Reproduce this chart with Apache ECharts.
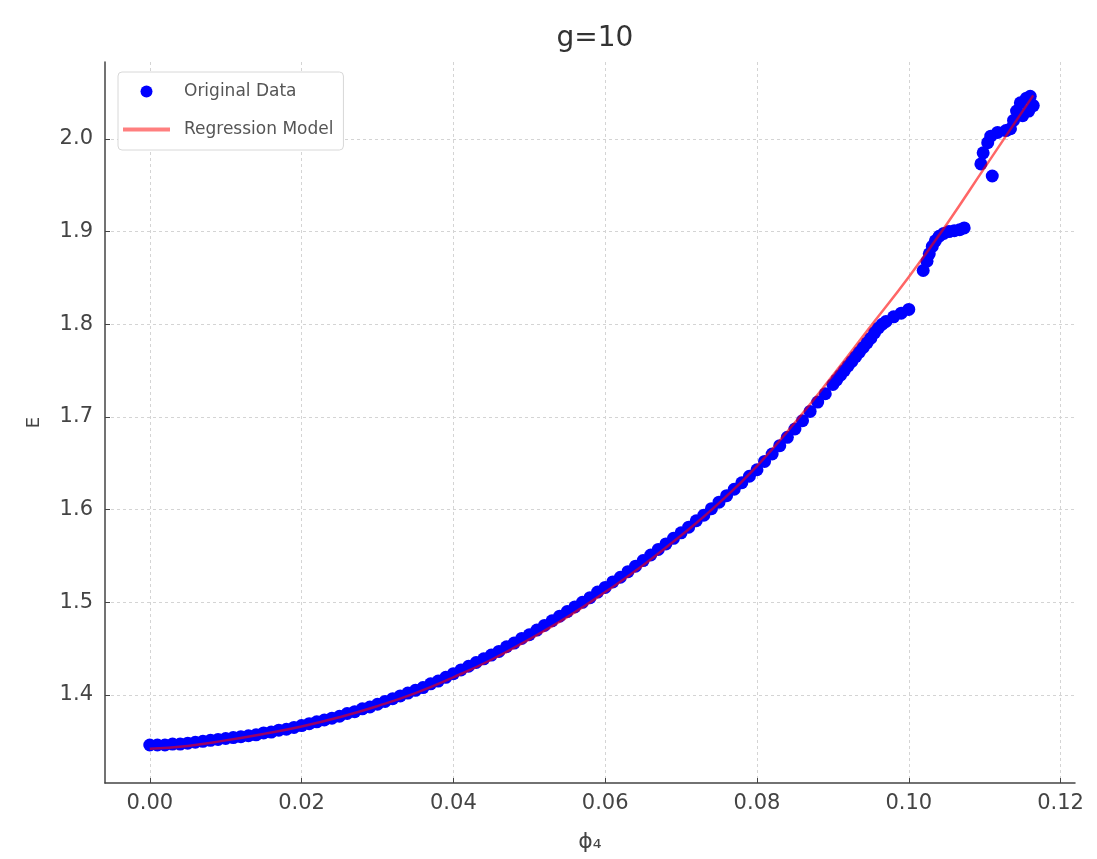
<!DOCTYPE html>
<html>
<head>
<meta charset="utf-8">
<script src="https://cdn.jsdelivr.net/npm/echarts@6/dist/echarts.min.js"></script>
<style>
  html, body { margin: 0; padding: 0; background: #fff; }
  #chart { width: 1097px; height: 859px; }
</style>
</head>
<body>
<div id="chart"></div>
<script>
const phiData = [
  0.000, 0.001, 0.002, 0.003, 0.004, 0.005, 0.006, 0.007, 0.008, 0.009,
  0.010, 0.011, 0.012, 0.013, 0.014, 0.015, 0.016, 0.017, 0.018, 0.019,
  0.020, 0.021, 0.022, 0.023, 0.024, 0.025, 0.026, 0.027, 0.028, 0.029,
  0.030, 0.031, 0.032, 0.033, 0.034, 0.035, 0.036, 0.037, 0.038, 0.039,
  0.040, 0.041, 0.042, 0.043, 0.044, 0.045, 0.046, 0.047, 0.048, 0.049,
  0.050, 0.051, 0.052, 0.053, 0.054, 0.055, 0.056, 0.057, 0.058, 0.059,
  0.060, 0.061, 0.062, 0.063, 0.064, 0.065, 0.066, 0.067, 0.068, 0.069,
  0.070, 0.071, 0.072, 0.073, 0.074, 0.075, 0.076, 0.077, 0.078, 0.079,
  0.080, 0.081, 0.082, 0.083, 0.084, 0.085, 0.086, 0.087, 0.088, 0.089,
  0.090, 0.0905, 0.091, 0.0915, 0.092, 0.0925, 0.093, 0.0935, 0.094, 0.0945,
  0.095, 0.0955, 0.096, 0.0965, 0.097, 0.098, 0.099, 0.100,
  // lower cluster
  0.1019, 0.1024, 0.1027, 0.1031, 0.1035, 0.1040, 0.1046, 0.1053, 0.1060, 0.1067, 0.1073,
  // upper cluster
  0.1095, 0.1098, 0.1104, 0.1110, 0.1108, 0.1117, 0.1128, 0.1134, 0.1138, 0.1142,
  0.1147, 0.1155, 0.1160, 0.1164, 0.1158, 0.1150
];
const eData = [
  1.346, 1.346, 1.346, 1.347, 1.347, 1.348, 1.349, 1.350, 1.351, 1.352,
  1.353, 1.354, 1.355, 1.356, 1.357, 1.359, 1.360, 1.362, 1.363, 1.365,
  1.367, 1.369, 1.371, 1.373, 1.375, 1.377, 1.380, 1.382, 1.385, 1.387,
  1.390, 1.393, 1.396, 1.399, 1.402, 1.405, 1.408, 1.412, 1.415, 1.419,
  1.423, 1.427, 1.431, 1.435, 1.439, 1.443, 1.447, 1.452, 1.456, 1.461,
  1.465, 1.470, 1.475, 1.480, 1.485, 1.490, 1.495, 1.500, 1.505, 1.511,
  1.516, 1.522, 1.527, 1.533, 1.539, 1.545, 1.551, 1.557, 1.563, 1.569,
  1.575, 1.581, 1.588, 1.594, 1.601, 1.608, 1.615, 1.622, 1.629, 1.636,
  1.643, 1.652, 1.660, 1.669, 1.678, 1.687, 1.696, 1.706, 1.716, 1.725,
  1.735, 1.740, 1.745, 1.750, 1.755, 1.760, 1.765, 1.770, 1.775, 1.780,
  1.785, 1.791, 1.796, 1.800, 1.803, 1.808, 1.812, 1.816,
  1.858, 1.868, 1.876, 1.884, 1.890, 1.895, 1.898, 1.900, 1.901, 1.902, 1.904,
  1.973, 1.985, 1.996, 1.960, 2.003, 2.007, 2.009, 2.011, 2.020, 2.030,
  2.039, 2.044, 2.046, 2.036, 2.030, 2.025
];

// regression model curve
const phiFit = [0.000, 0.005, 0.010, 0.015, 0.020, 0.025, 0.030, 0.035, 0.040, 0.045,
  0.050, 0.055, 0.060, 0.065, 0.070, 0.075, 0.080, 0.085, 0.090, 0.095,
  0.100, 0.105, 0.110, 0.1164];
const eFit = [1.342, 1.345, 1.351, 1.358, 1.366, 1.376, 1.388, 1.402, 1.419, 1.438,
  1.460, 1.484, 1.511, 1.540, 1.572, 1.607, 1.647, 1.694, 1.745, 1.798,
  1.851, 1.908, 1.969, 2.047];

const xTicks = [0.00, 0.02, 0.04, 0.06, 0.08, 0.10, 0.12];
const yTicks = [1.4, 1.5, 1.6, 1.7, 1.8, 1.9, 2.0];

const chart = echarts.init(document.getElementById('chart'));

const axisColor = '#444';
const gridColor = '#d4d4d4';
const labelColor = '#444';
const fitColor = 'rgba(255,0,0,0.6)';
const font = 'DejaVu Sans';

chart.setOption({
  animation: false,
  title: {
    text: 'g=10',
    left: 590,
    top: 20,
    textAlign: 'center',
    textStyle: { fontFamily: font, fontSize: 28, fontWeight: 'normal', color: '#333' }
  },
  legend: {
    orient: 'vertical',
    left: 118,
    top: 72,
    padding: [11, 10, 12, 5],
    itemWidth: 47,
    itemHeight: 12,
    itemGap: 21,
    backgroundColor: '#fff',
    borderColor: '#d8d8d8',
    borderWidth: 1,
    borderRadius: 4,
    textStyle: { fontFamily: font, fontSize: 17, color: '#555', padding: [0, 0, 0, 9] },
    data: [
      { name: 'Original Data', icon: 'circle' },
      {
        name: 'Regression Model',
        icon: 'path://M0,0 L47,0 L47,4 L0,4 Z',
        itemStyle: { color: 'rgba(255,0,0,0.5)' }
      }
    ]
  },
  grid: { left: 105, right: 22, top: 62, bottom: 76 },
  xAxis: {
    type: 'value',
    min: -0.0059,
    max: 0.1219,
    name: 'ϕ₄',
    nameLocation: 'middle',
    nameGap: 48,
    nameTextStyle: { fontFamily: font, fontSize: 22, color: labelColor },
    axisLine: { show: true, onZero: false, lineStyle: { color: axisColor, width: 1.5 } },
    axisTick: { show: true, inside: true, length: 5, customValues: xTicks, lineStyle: { color: axisColor } },
    axisLabel: {
      customValues: xTicks,
      margin: 10,
      fontFamily: font, fontSize: 21, color: labelColor,
      formatter: v => v.toFixed(2)
    },
    splitLine: { show: true, lineStyle: { color: gridColor, type: [3, 3], width: 1 } }
  },
  yAxis: {
    type: 'value',
    min: 1.305,
    max: 2.083,
    name: 'E',
    nameLocation: 'middle',
    nameRotate: 90,
    nameGap: 62,
    nameTextStyle: { fontFamily: font, fontSize: 18, color: labelColor },
    axisLine: { show: true, onZero: false, lineStyle: { color: axisColor, width: 1.5 } },
    axisTick: { show: true, inside: true, length: 5, customValues: yTicks, lineStyle: { color: axisColor } },
    axisLabel: {
      customValues: yTicks,
      margin: 12,
      fontFamily: font, fontSize: 21, color: labelColor,
      formatter: v => v.toFixed(1)
    },
    splitLine: { show: true, lineStyle: { color: gridColor, type: [3, 3], width: 1 } }
  },
  series: [
    {
      name: 'Original Data',
      type: 'scatter',
      symbol: 'circle',
      symbolSize: 13,
      itemStyle: { color: '#0000ff', opacity: 1 },
      data: phiData.map((x, i) => [x, eData[i]]),
      z: 2
    },
    {
      name: 'Regression Model',
      type: 'line',
      smooth: true,
      symbol: 'none',
      lineStyle: { color: fitColor, width: 2.5 },
      itemStyle: { color: fitColor },
      data: phiFit.map((x, i) => [x, eFit[i]]),
      z: 3
    }
  ]
});
</script>
</body>
</html>
